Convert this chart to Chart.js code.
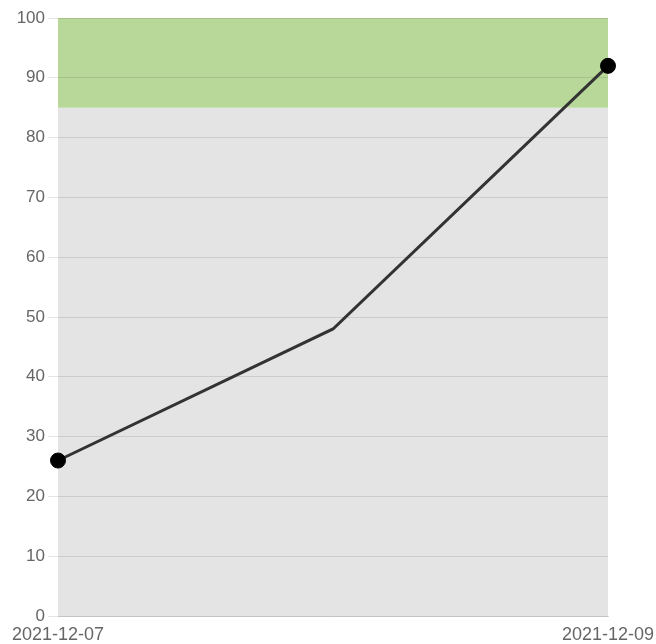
<!DOCTYPE html>
<html>
<head>
<meta charset="utf-8">
<script src="https://cdn.jsdelivr.net/npm/chart.js@4"></script>
<style>
html,body{margin:0;padding:0;background:#fff;}
#wrap{width:656px;height:644px;position:relative;}
</style>
</head>
<body>
<div id="wrap"><canvas id="c"></canvas></div>
<script>
const categories = ['2021-12-07', '2021-12-08', '2021-12-09'];
const values = [26, 48, 92];
const pointSizes = [7.5, 0, 7.5];
const yTicks = [0, 10, 20, 30, 40, 50, 60, 70, 80, 90, 100];
const bands = [
  {from: 0, to: 85, color: '#e4e4e4'},
  {from: 85, to: 100, color: '#b8d899'}
];

const bandPlugin = {
  id: 'bands',
  beforeDraw(chart) {
    const {ctx, chartArea, scales} = chart;
    ctx.save();
    bands.forEach(b => {
      const y1 = scales.y.getPixelForValue(b.to);
      const y2 = scales.y.getPixelForValue(b.from);
      ctx.fillStyle = b.color;
      ctx.fillRect(chartArea.left, y1, chartArea.right - chartArea.left, y2 - y1);
    });
    ctx.restore();
  }
};

new Chart(document.getElementById('c'), {
  type: 'line',
  data: {
    labels: categories,
    datasets: [{
      data: values,
      borderColor: '#333333',
      borderWidth: 3,
      pointRadius: pointSizes,
      pointHoverRadius: pointSizes,
      pointBackgroundColor: '#000',
      pointBorderColor: '#000',
      pointBorderWidth: 1,
      tension: 0,
      fill: false
    }]
  },
  options: {
    responsive: true,
    maintainAspectRatio: false,
    animation: false,
    layout: {padding: {top: 18, left: 0, right: 0, bottom: 0}},
    plugins: {legend: {display: false}, tooltip: {enabled: false}},
    scales: {
      x: {
        offset: false,
        grid: {display: false, tickLength: 0},
        border: {display: true, color: 'rgba(0,0,0,0.15)'},
        afterFit: axis => { axis.height = 28; axis.paddingRight = 48; axis.paddingLeft = 0; },
        ticks: {
          color: '#666',
          font: {size: 18},
          maxRotation: 0,
          autoSkip: false,
          padding: 8,
          callback: function(v, i) { return (i === 0 || i === categories.length - 1) ? categories[i] : ''; }
        }
      },
      y: {
        min: 0,
        max: 100,
        afterBuildTicks: axis => { axis.ticks = yTicks.map(v => ({value: v})); },
        afterFit: axis => { axis.width = 58; },
        grid: {color: 'rgba(0,0,0,0.1)', tickLength: 10},
        border: {display: false},
        ticks: {color: '#666', font: {size: 17}, padding: 3}
      }
    }
  },
  plugins: [bandPlugin]
});
</script>
</body>
</html>
